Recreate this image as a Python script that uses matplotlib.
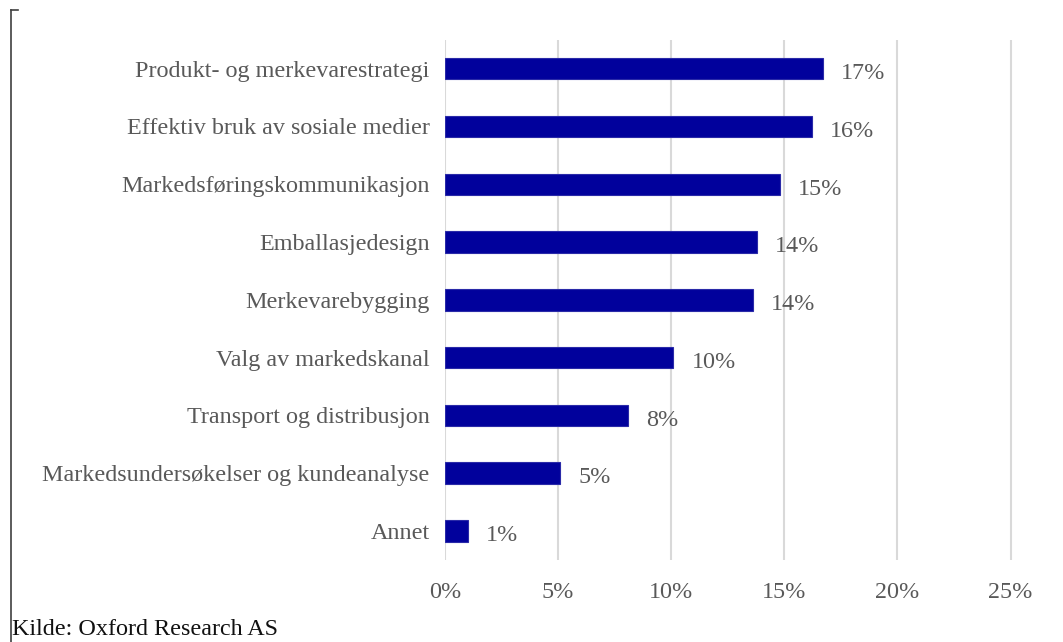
import matplotlib.pyplot as plt
from matplotlib.lines import Line2D

categories = [
    "Produkt- og merkevarestrategi",
    "Effektiv bruk av sosiale medier",
    "Markedsføringskommunikasjon",
    "Emballasjedesign",
    "Merkevarebygging",
    "Valg av markedskanal",
    "Transport og distribusjon",
    "Markedsundersøkelser og kundeanalyse",
    "Annet",
]
shares = [16.7, 16.2, 14.8, 13.8, 13.6, 10.1, 8.1, 5.1, 1.0]
xticks = [0, 5, 10, 15, 20, 25]
source_note = "Kilde: Oxford Research AS"

plt.rcParams["font.family"] = ["Liberation Serif", "DejaVu Serif"]
grey = "#595959"
fs = 17.4

fig = plt.figure(figsize=(10.63, 6.42), dpi=100)
ax = fig.add_axes([0.4186, 0.128, 0.5385, 0.81])

y = list(range(len(categories)))
ax.barh(y, shares, height=0.37, color="#01019c", edgecolor="#2a2aa8",
        linewidth=0.8, zorder=3)

for yi, v in zip(y, shares):
    ax.text(v + 0.8, yi + 0.04, f"{v:.0f}%", va="center_baseline",
            ha="left", fontsize=fs, color=grey)

ax.set_xlim(0, 25.3)
ax.set_ylim(len(categories) - 0.5, -0.5)
ax.set_xticks(xticks)
ax.set_xticklabels([f"{t}%" for t in xticks], fontsize=fs, color=grey)
ax.set_yticks(y)
ax.set_yticklabels(categories, fontsize=fs, color=grey)
ax.tick_params(axis="both", length=0)
ax.tick_params(axis="x", pad=16)
ax.tick_params(axis="y", pad=11)
ax.grid(axis="x", color="#d9d9d9", linewidth=1.5, zorder=0)
for s in ax.spines.values():
    s.set_visible(False)

# bracket on the left edge
fig.add_artist(Line2D([0.0105, 0.0105], [0.0, 0.984], color="#404040",
                      linewidth=1.2, transform=fig.transFigure))
fig.add_artist(Line2D([0.0105, 0.017], [0.984, 0.984], color="#404040",
                      linewidth=1.2, transform=fig.transFigure))

fig.text(0.0115, 0.003, source_note, fontsize=17.4, color="#111111",
         ha="left", va="bottom")

fig.savefig("out.png", dpi=100)
